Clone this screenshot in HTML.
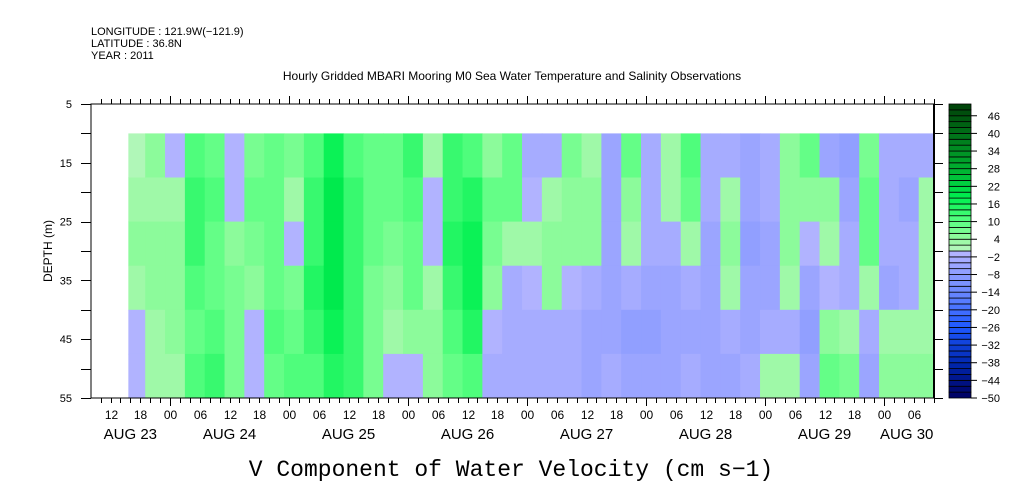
<!DOCTYPE html>
<html><head><meta charset="utf-8"><style>
html,body{margin:0;padding:0;background:#fff;}
svg{display:block;font-family:"Liberation Sans","DejaVu Sans",sans-serif;}
</style></head><body>
<svg id="c" width="1009" height="504" viewBox="0 0 1009 504" xmlns="http://www.w3.org/2000/svg">
<g font-size="11" fill="#000">
<text x="91" y="35">LONGITUDE : 121.9W(−121.9)</text>
<text x="91" y="47">LATITUDE : 36.8N</text>
<text x="91" y="59">YEAR : 2011</text>
</g>
<text x="512" y="80" text-anchor="middle" font-size="12">Hourly Gridded MBARI Mooring M0 Sea Water Temperature and Salinity Observations</text>
<g id="cells"></g>
<g id="axes"></g>
<g id="cbar"></g>
<text transform="translate(52,251) rotate(-90)" text-anchor="middle" font-size="12">DEPTH (m)</text>
<text x="511" y="476" text-anchor="middle" font-size="23" font-family="Liberation Mono, monospace">V Component of Water Velocity (cm s−1)</text>
</svg>
<script>
// depth bands (m, top edge) and column start hours (from Aug 23 00:00), 4-hour columns
const depthBands = [10, 17.5, 25, 32.5, 40, 47.5];
const colHours = [15.6,19,23,27,31,35,39,43,47,51,55,59,63,67,71,75,79,83,87,91,95,99,103,107,111,115,119,123,127,131,135,139,143,147,151,155,159,163,167,171,175];
// values per column: [band0..band5] (cm/s)
const vValues = [
[0,3,4,2,-1,-2],[4,3,5,4,3,3],[-2,2,4,5,4,3],[10,12,12,10,8,10],[8,10,9,8,10,12],
[-1,-1,5,6,6,7],[7,8,6,4,-1,-2],[8,9,9,8,10,8],[6,3,-1,6,9,10],[10,12,13,14,12,10],
[16,18,18,18,16,14],[10,12,12,12,12,12],[8,8,8,7,7,6],[8,8,6,5,3,-2],[12,10,8,8,5,-1],
[3,-1,-1,2,5,4],[12,12,14,12,10,8],[10,14,16,16,14,10],[4,8,6,4,-2,-3],[8,8,2,-3,-4,-4],
[-3,-2,2,-2,-4,-4],[-4,2,5,4,-3,-4],[6,5,5,-2,-3,-4],[3,4,4,-3,-5,-5],[-5,-6,-5,-5,-6,-4],
[8,4,3,-4,-7,-6],[-4,-3,-4,-6,-8,-6],[2,2,-3,-5,-6,-6],[10,8,3,-3,-5,-4],[-4,-4,-5,-6,-6,-5],
[-3,3,4,2,-4,-5],[-5,-5,-7,-6,-6,-3],[-4,-3,-5,-5,-4,2],[5,5,4,2,-3,3],[8,5,-2,-5,-8,-6],
[-5,4,3,-2,4,8],[-8,-6,-4,-3,3,6],[6,8,8,3,-3,-5],[-4,-3,-4,-5,2,5],[-4,-5,-4,-4,2,4],[-3,2,2,2,3,4]
];
const cbarLabels = [46,40,34,28,22,16,10,4,-2,-8,-14,-20,-26,-32,-38,-44,-50];
const yTickLabels = [5,15,25,35,45,55];
const dayLabels = ["AUG 23","AUG 24","AUG 25","AUG 26","AUG 27","AUG 28","AUG 29","AUG 30"];
const hourLabels = ["00","06","12","18"];

const NS="http://www.w3.org/2000/svg";
const L=91,R=934,T=104,B=398;
const xH=h=>170+(h-24)*119/24;
const yD=d=>T+(d-5)*(B-T)/50;
const H0=(L-170)*24/119+24, H1=(R-170)*24/119+24;
const anchors=[[-50,[0,0,96]],[-38,[0,40,176]],[-26,[30,88,255]],[-14,[106,136,255]],[-6,[150,162,255]],[0,[182,182,255]],
[0.01,[184,246,192]],[4,[150,250,160]],[10,[90,255,130]],[18,[0,240,80]],[28,[0,176,48]],[40,[0,112,24]],[50,[0,64,8]]];
function col(v){
  let b=Math.floor(v/2)*2+1; b=Math.max(-49,Math.min(49,b));
  for(let i=0;i<anchors.length-1;i++){const a=anchors[i],c=anchors[i+1];
    if(b>=a[0]&&b<=c[0]){const t=(b-a[0])/(c[0]-a[0]);return "rgb("+a[1].map((x,k)=>Math.round(x+(c[1][k]-x)*t)).join(",")+")";}}
  return b<0?"rgb(0,0,96)":"rgb(0,64,8)";
}
function mk(tag,attrs,parent){const e=document.createElementNS(NS,tag);for(const k in attrs)e.setAttribute(k,attrs[k]);parent.appendChild(e);return e;}
const cells=document.getElementById('cells');
colHours.forEach((h,i)=>{
  const hEnd=i<colHours.length-1?colHours[i+1]:h+4;
  const x0=Math.max(xH(h),L), x1=Math.min(xH(hEnd),R);
  depthBands.forEach((d,j)=>{
    const d1=j<depthBands.length-1?depthBands[j+1]:55;
    const r=mk('rect',{x:x0,y:yD(d),width:x1-x0+0.5,height:yD(d1)-yD(d)+0.5,fill:col(vValues[i][j])},cells);
    
    
  });
});
const ax=document.getElementById('axes');
mk('rect',{x:L,y:T,width:R-L,height:B-T,fill:'none',stroke:'#000','stroke-width':1},ax);
mk('line',{x1:R,y1:T,x2:R,y2:B,stroke:'#000','stroke-width':2},ax);
for(let h=Math.ceil(H0/2)*2;h<=H1;h+=2){
  const x=Math.round(xH(h))+0.5, maj=h%24===0;
  mk('line',{x1:x,y1:B,x2:x,y2:B+(maj?8:5),stroke:'#000'},ax);
  mk('line',{x1:x,y1:T,x2:x,y2:T-(maj?8:5),stroke:'#000'},ax);
  if(h%6===0){const t=mk('text',{x:x,y:B+21,'text-anchor':'middle','font-size':12},ax);t.textContent=hourLabels[(h%24)/6];
    
    }
}
dayLabels.forEach((s,i)=>{
  let h=i*24+12; if(i===0)h=16; if(i===dayLabels.length-1)h=H1-5.5;
  const t=mk('text',{x:xH(h),y:B+41,'text-anchor':'middle','font-size':15},ax);t.textContent=s;
  
  
});
for(let d=5;d<=55;d+=5){const y=Math.round(yD(d))+0.5;
  mk('line',{x1:L-10,y1:y,x2:L,y2:y,stroke:'#000'},ax);
  mk('line',{x1:R,y1:y,x2:R+9,y2:y,stroke:'#000'},ax);}
yTickLabels.forEach(d=>{const t=mk('text',{x:72,y:yD(d)+4,'text-anchor':'end','font-size':11},ax);t.textContent=d;
  
  });
const cb=document.getElementById('cbar');
const cy=v=>T+(50-v)*(B-T)/100;
for(let v=-50;v<50;v+=2){const r=mk('rect',{x:949,y:cy(v+2),width:22,height:cy(v)-cy(v+2),fill:col(v+1),stroke:'#000','stroke-width':0.8},cb);
  
  }
cbarLabels.forEach(v=>{const y=cy(v);mk('line',{x1:971,y1:y,x2:977,y2:y,stroke:'#000'},cb);
  const t=mk('text',{x:1000,y:y+4,'text-anchor':'end','font-size':11},cb);t.textContent=v<0?"−"+(-v):v;
  
  });
</script>
</body></html>
